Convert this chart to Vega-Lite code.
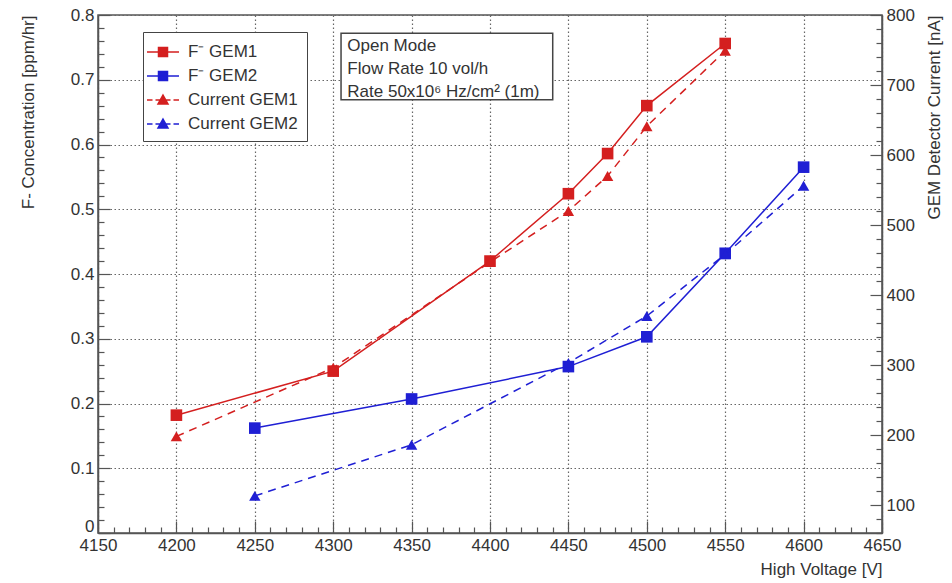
{
  "$schema": "https://vega.github.io/schema/vega-lite/v6.json",
  "width": 784,
  "height": 518,
  "autosize": {"type": "none"},
  "padding": {"left": 98, "top": 15, "right": 70, "bottom": 50},
  "background": "white",
  "config": {
    "font": "Liberation Sans",
    "view": {"stroke": "#555", "strokeWidth": 1.5},
    "axis": {
      "labelFont": "Liberation Sans", "titleFont": "Liberation Sans",
      "labelFontSize": 17, "titleFontSize": 17,
      "labelColor": "#333", "titleColor": "#333", "titleFontWeight": "normal",
      "domainColor": "#555", "domainWidth": 1.5,
      "tickColor": "#555", "tickWidth": 1.2,
      "gridColor": "#666", "gridDash": [1.5, 2.5], "gridWidth": 1.2,
      "labelOverlap": false, "labelFlush": false, "tickCount": 200
    }
  },
  "datasets": {
    "conc": [
      {"V": 4200, "val": 0.182, "series": "F⁻ GEM1"},
      {"V": 4300, "val": 0.250, "series": "F⁻ GEM1"},
      {"V": 4400, "val": 0.420, "series": "F⁻ GEM1"},
      {"V": 4450, "val": 0.524, "series": "F⁻ GEM1"},
      {"V": 4475, "val": 0.586, "series": "F⁻ GEM1"},
      {"V": 4500, "val": 0.660, "series": "F⁻ GEM1"},
      {"V": 4550, "val": 0.756, "series": "F⁻ GEM1"},
      {"V": 4250, "val": 0.162, "series": "F⁻ GEM2"},
      {"V": 4350, "val": 0.207, "series": "F⁻ GEM2"},
      {"V": 4450, "val": 0.257, "series": "F⁻ GEM2"},
      {"V": 4500, "val": 0.303, "series": "F⁻ GEM2"},
      {"V": 4550, "val": 0.432, "series": "F⁻ GEM2"},
      {"V": 4600, "val": 0.565, "series": "F⁻ GEM2"}
    ],
    "curr": [
      {"V": 4200, "val": 198, "series": "Current GEM1"},
      {"V": 4300, "val": 296, "series": "Current GEM1"},
      {"V": 4400, "val": 447, "series": "Current GEM1"},
      {"V": 4450, "val": 520, "series": "Current GEM1"},
      {"V": 4475, "val": 570, "series": "Current GEM1"},
      {"V": 4500, "val": 641, "series": "Current GEM1"},
      {"V": 4550, "val": 749, "series": "Current GEM1"},
      {"V": 4250, "val": 113, "series": "Current GEM2"},
      {"V": 4350, "val": 186, "series": "Current GEM2"},
      {"V": 4450, "val": 303, "series": "Current GEM2"},
      {"V": 4500, "val": 370, "series": "Current GEM2"},
      {"V": 4550, "val": 458, "series": "Current GEM2"},
      {"V": 4600, "val": 556, "series": "Current GEM2"}
    ]
  },
  "layer": [
    {
      "layer": [
        {
          "data": {"name": "conc"},
          "mark": {"type": "line", "strokeWidth": 1.5},
          "encoding": {
            "x": {
              "field": "V", "type": "quantitative",
              "scale": {"domain": [4150, 4650], "nice": false, "zero": false},
              "axis": {
                "title": "High Voltage [V]",
                "titleAnchor": "end", "titleAlign": "right", "titlePadding": 2,
                "values": [4150,4160,4170,4180,4190,4200,4210,4220,4230,4240,4250,4260,4270,4280,4290,4300,4310,4320,4330,4340,4350,4360,4370,4380,4390,4400,4410,4420,4430,4440,4450,4460,4470,4480,4490,4500,4510,4520,4530,4540,4550,4560,4570,4580,4590,4600,4610,4620,4630,4640,4650],
                "tickCount": 200,
                "labelExpr": "datum.value % 50 == 0 ? datum.label : ''",
                "format": "d",
                "tickSize": {"condition": {"test": "datum.value % 50 == 0", "value": -12}, "value": -6},
                "gridOpacity": {"condition": {"test": "datum.value % 50 == 0", "value": 1}, "value": 0},
                "labelPadding": 16
              }
            },
            "y": {
              "field": "val", "type": "quantitative",
              "scale": {"domain": [0, 0.8], "nice": false, "zero": false},
              "axis": {
                "title": "F- Concentration [ppm/hr]",
                "titleAnchor": "end", "titleAlign": "right", "titlePadding": 33,
                "values": [0,0.02,0.04,0.06,0.08,0.1,0.12,0.14,0.16,0.18,0.2,0.22,0.24,0.26,0.28,0.3,0.32,0.34,0.36,0.38,0.4,0.42,0.44,0.46,0.48,0.5,0.52,0.54,0.56,0.58,0.6,0.62,0.64,0.66,0.68,0.7,0.72,0.74,0.76,0.78,0.8],
                "tickCount": 200,
                "format": ".1~f",
                "labelExpr": "abs(datum.value*10 - round(datum.value*10)) < 0.001 ? datum.label : ''",
                "tickSize": {"condition": {"test": "abs(datum.value*10 - round(datum.value*10)) < 0.001", "value": -12}, "value": -6},
                "gridOpacity": {"condition": {"test": "abs(datum.value*10 - round(datum.value*10)) < 0.001 && datum.value > 0", "value": 1}, "value": 0},
                "labelOffset": {"condition": {"test": "datum.value == 0", "value": -7}, "value": 0},
                "labelPadding": 16
              }
            },
            "color": {
              "field": "series", "type": "nominal",
              "scale": {"domain": ["F⁻ GEM1", "F⁻ GEM2", "Current GEM1", "Current GEM2"], "range": ["#d41f1f", "#1f1fd4", "#d41f1f", "#1f1fd4"]},
              "legend": {
                "orient": "none", "legendX": 45, "legendY": 17, "title": null,
                "strokeColor": "#444", "fillColor": "white", "padding": 9,
                "symbolSize": 400, "symbolStrokeWidth": 1.5,
                "labelFont": "Liberation Sans", "labelFontSize": 17, "labelColor": "#333",
                "labelOffset": 14, "rowPadding": 5,
                "encode": {
                  "symbols": {
                    "update": {
                      "shape": [
                        {"test": "indexof(datum.label, 'Current') >= 0", "value": "M-1.6,0H-1.05M-0.75,0H-0.3M0.3,0H0.75M1.05,0H1.6M0,-0.5L0.5,0.4H-0.5Z"},
                        {"value": "M-1.6,0H1.6M-0.45,-0.45H0.45V0.45H-0.45Z"}
                      ],
                      "stroke": [
                        {"test": "indexof(datum.label, 'GEM1') >= 0", "value": "#d41f1f"},
                        {"value": "#1f1fd4"}
                      ],
                      "fill": [
                        {"test": "indexof(datum.label, 'GEM1') >= 0", "value": "#d41f1f"},
                        {"value": "#1f1fd4"}
                      ],
                      "strokeWidth": {"value": 1.5},
                      "opacity": {"value": 1}
                    }
                  }
                }
              }
            }
          }
        },
        {
          "data": {"name": "conc"},
          "mark": {"type": "point", "shape": "square", "filled": true, "size": 135, "opacity": 1},
          "encoding": {
            "x": {"field": "V", "type": "quantitative"},
            "y": {"field": "val", "type": "quantitative"},
            "color": {"field": "series", "type": "nominal"}
          }
        },
        {
          "data": {"values": [{}]},
          "mark": {"type": "rect", "fill": "white", "stroke": "#444", "strokeWidth": 1.5},
          "encoding": {
            "x": {"datum": 4305, "type": "quantitative"},
            "x2": {"datum": 4440},
            "y": {"datum": 0.772, "type": "quantitative"},
            "y2": {"datum": 0.669}
          }
        },
        {
          "data": {"values": [{}]},
          "mark": {"type": "text", "align": "left", "baseline": "top", "fontSize": 17, "lineHeight": 23, "color": "#333", "font": "Liberation Sans"},
          "encoding": {
            "x": {"datum": 4309, "type": "quantitative"},
            "y": {"datum": 0.765, "type": "quantitative"},
            "text": {"value": ["Open Mode", "Flow Rate 10 vol/h", "Rate 50x10⁶ Hz/cm² (1m)"]}
          }
        }
      ]
    },
    {
      "layer": [
        {
          "data": {"name": "curr"},
          "mark": {"type": "line", "strokeWidth": 1.5, "strokeDash": [8, 6]},
          "encoding": {
            "x": {"field": "V", "type": "quantitative"},
            "y": {
              "field": "val", "type": "quantitative",
              "scale": {"domain": [60, 800], "nice": false, "zero": false},
              "axis": {
                "orient": "right",
                "title": "GEM Detector Current [nA]",
                "titleAngle": -90, "titleAnchor": "end", "titleAlign": "right", "titleBaseline": "top", "titlePadding": 12,
                "grid": false,
                "values": [60,80,100,120,140,160,180,200,220,240,260,280,300,320,340,360,380,400,420,440,460,480,500,520,540,560,580,600,620,640,660,680,700,720,740,760,780,800],
                "tickCount": 200,
                "format": "d",
                "labelExpr": "datum.value % 100 == 0 ? datum.label : ''",
                "tickSize": {"condition": {"test": "datum.value % 100 == 0", "value": -12}, "value": -6},
                "labelPadding": 16
              }
            },
            "color": {"field": "series", "type": "nominal"}
          }
        },
        {
          "data": {"name": "curr"},
          "mark": {"type": "point", "shape": "triangle-up", "filled": true, "size": 130, "opacity": 1},
          "encoding": {
            "x": {"field": "V", "type": "quantitative"},
            "y": {"field": "val", "type": "quantitative"},
            "color": {"field": "series", "type": "nominal"}
          }
        }
      ]
    }
  ],
  "resolve": {"scale": {"y": "independent"}}
}
